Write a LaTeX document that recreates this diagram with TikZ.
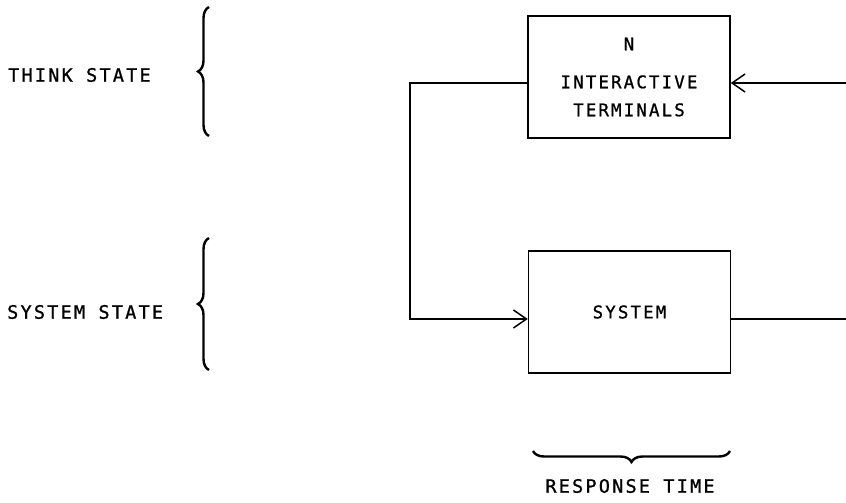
\documentclass[tikz,border=0pt]{standalone}
\usepackage{fontspec}
\newfontfamily\diagfont{DejaVu Sans Mono}[LetterSpace=12,FakeBold=0.9]
\usetikzlibrary{arrows.meta,decorations.pathreplacing}
\begin{document}
\begin{tikzpicture}[x=1pt,y=-1pt,
  every node/.style={font=\diagfont\fontsize{18.5}{28}\selectfont, inner sep=0pt},
  blockbox/.style={draw, line width=1.5pt, minimum width=202pt, minimum height=122pt, align=center,
    font=\diagfont\fontsize{17.5}{28}\selectfont},
  conn/.style={line width=1.4pt},
  arr/.style={conn, -{Straight Barb[length=13pt,width=18pt,line width=1.5pt]}},
  curly/.style={decorate, decoration={brace, amplitude=11pt}, line width=2.4pt}]
\useasboundingbox (0,0) rectangle (846,503);

\node[blockbox] (term) at (629,77) {N\\[10pt]INTERACTIVE\\TERMINALS};
\node[blockbox] (sys) at (629.5,312) {SYSTEM};

\coordinate (inR) at (846,83);
\coordinate (outR) at (846,319);
\coordinate (cornerTop) at (410,83);
\coordinate (cornerBot) at (410,319);

\draw[arr] (inR) -- (term.east |- inR);
\draw[arr] (term.west |- cornerTop) -- (cornerTop) -- (cornerBot) -- (sys.west |- cornerBot);
\draw[conn] (sys.east |- outR) -- (outR);

\node[anchor=west] (think) at (8,75) {THINK STATE};
\node[anchor=west] (sysstate) at (7,312) {SYSTEM STATE};
\node (resp) at (630,486) {RESPONSE TIME};

\coordinate (b1s) at (209,136);
\coordinate (b1e) at (209,7);
\coordinate (b2s) at (209,370);
\coordinate (b2e) at (209,238);
\coordinate (b3s) at (730,451);
\coordinate (b3e) at (533,451);
\draw[curly] (b1s) -- (b1e);
\draw[curly] (b2s) -- (b2e);
\draw[curly] (b3s) -- (b3e);
\end{tikzpicture}
\end{document}
